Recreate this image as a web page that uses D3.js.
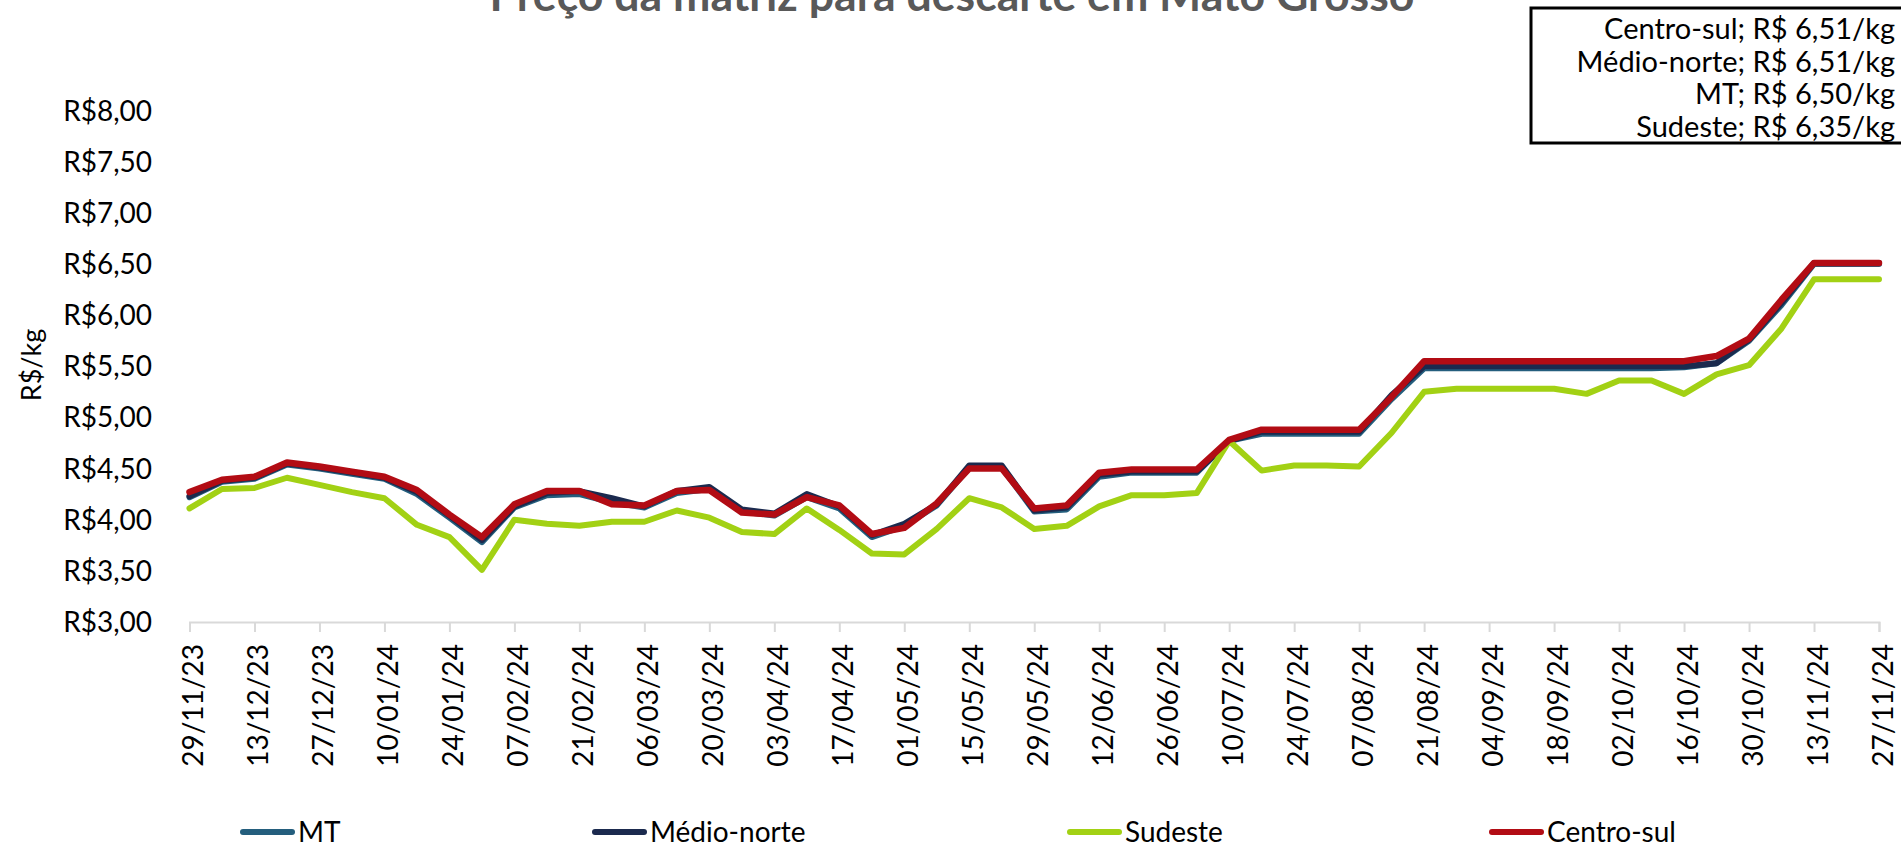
<!doctype html>
<html>
<head>
<meta charset="utf-8">
<title>Preço da matriz para descarte em Mato Grosso</title>
<script src="https://cdn.jsdelivr.net/npm/d3@7"></script>
<style>
  body { margin: 0; background: #fff; }
  svg { display: block; font-family: Lato, 'Open Sans', sans-serif; }
  .tick-y, .tick-x, .leg, .box-txt, .ytitle { fill: #000; }
</style>
</head>
<body>
<script>

var dates = ["29/11/23","06/12/23","13/12/23","20/12/23","27/12/23","03/01/24","10/01/24","17/01/24",
  "24/01/24","31/01/24","07/02/24","14/02/24","21/02/24","28/02/24","06/03/24","13/03/24","20/03/24",
  "27/03/24","03/04/24","10/04/24","17/04/24","24/04/24","01/05/24","08/05/24","15/05/24","22/05/24",
  "29/05/24","05/06/24","12/06/24","19/06/24","26/06/24","03/07/24","10/07/24","17/07/24","24/07/24",
  "31/07/24","07/08/24","14/08/24","21/08/24","28/08/24","04/09/24","11/09/24","18/09/24","25/09/24",
  "02/10/24","09/10/24","16/10/24","23/10/24","30/10/24","06/11/24","13/11/24","20/11/24","27/11/24"]

var mt = [4.22,4.37,4.40,4.54,4.50,4.45,4.40,4.25,4.02,3.78,4.12,4.24,4.25,4.17,4.12,4.26,4.30,4.08,
  4.04,4.22,4.11,3.83,3.94,4.14,4.51,4.51,4.08,4.10,4.42,4.46,4.46,4.46,4.77,4.84,4.84,4.84,4.84,5.18,
  5.48,5.48,5.48,5.48,5.48,5.48,5.48,5.48,5.49,5.53,5.75,6.10,6.50,6.50,6.50]

var medioNorte = [4.23,4.38,4.41,4.55,4.51,4.46,4.41,4.27,4.04,3.80,4.13,4.26,4.28,4.21,4.13,4.28,4.32,
  4.10,4.06,4.25,4.13,3.85,3.96,4.15,4.53,4.53,4.09,4.12,4.44,4.47,4.47,4.47,4.77,4.86,4.86,4.86,4.86,
  5.22,5.50,5.50,5.50,5.50,5.50,5.50,5.50,5.50,5.50,5.53,5.76,6.12,6.51,6.51,6.51]

var sudeste = [4.11,4.30,4.31,4.41,4.34,4.27,4.21,3.95,3.83,3.51,4.00,3.96,3.94,3.98,3.98,4.09,4.02,
  3.88,3.86,4.11,3.90,3.67,3.66,3.91,4.21,4.12,3.91,3.94,4.13,4.24,4.24,4.26,4.77,4.48,4.53,4.53,4.52,
  4.85,5.25,5.28,5.28,5.28,5.28,5.23,5.36,5.36,5.23,5.42,5.51,5.87,6.35,6.35,6.35]

var centroSul = [4.27,4.39,4.42,4.56,4.52,4.47,4.42,4.29,4.05,3.83,4.15,4.28,4.28,4.15,4.14,4.28,4.29,
  4.07,4.05,4.22,4.14,3.86,3.92,4.16,4.50,4.50,4.11,4.14,4.46,4.49,4.49,4.49,4.78,4.88,4.88,4.88,4.88,
  5.20,5.55,5.55,5.55,5.55,5.55,5.55,5.55,5.55,5.55,5.60,5.77,6.15,6.51,6.51,6.51]

var yTicks = [3,3.5,4,4.5,5,5.5,6,6.5,7,7.5,8]

var series = [
  {name:"MT", values:mt, color:"#245e7d", w:6},
  {name:"Médio-norte", values:medioNorte, color:"#1b2a4e", w:6},
  {name:"Sudeste", values:sudeste, color:"#a2d114", w:6},
  {name:"Centro-sul", values:centroSul, color:"#b20c14", w:6.5}
]

var boxLines = ["Centro-sul; R$ 6,51/kg","Médio-norte; R$ 6,51/kg","MT; R$ 6,50/kg","Sudeste; R$ 6,35/kg"]

var width = 1901, height = 846
var parse = d3.timeParse("%d/%m/%y")
var fmt = d3.timeFormat("%d/%m/%y")
var days = dates.map(parse)

var svg = d3.select("body").append("svg")
  .attr("width", width).attr("height", height)

var x = d3.scaleTime().domain(d3.extent(days)).range([189.5, 1879])
var y = d3.scaleLinear().domain([3, 8]).range([622, 110.5])

// title, cut at the top like the original
var title = svg.append("text")
  .attr("x", 952).attr("y", 11)
  .attr("text-anchor", "middle")
  .style("font-weight", "bold")
  .style("font-size", "40px")
  .attr("fill", "#595959")
  .text("Preço da matriz para descarte em Mato Grosso")
var tl = title.node().getComputedTextLength()
title.style("font-size", (40 * 925 / tl) + "px")

// y labels
svg.selectAll(".tick-y")
  .data(yTicks)
  .enter().append("text")
    .attr("class", "tick-y")
    .attr("x", 152)
    .attr("y", function(d) { return y(d); })
    .attr("dy", "0.36em")
    .attr("text-anchor", "end")
    .style("font-size", "28px")
    .text(function(d) { return "R$" + d3.format(".2f")(d).replace(".", ","); })

svg.append("text")
  .attr("class", "ytitle")
  .attr("transform", "translate(31,365) rotate(-90)")
  .attr("text-anchor", "middle")
  .attr("dy", "0.36em")
  .style("font-size", "27px")
  .text("R$/kg")

// x axis
var xTickVals = days.filter(function(d, i) { return i % 2 == 0; })
var xAxis = d3.axisBottom(x)
  .tickValues(xTickVals)
  .tickSize(10)
  .tickFormat(fmt)

var gx = svg.append("g")
  .attr("transform", "translate(0,622)")
  .call(xAxis)
gx.select(".domain").attr("stroke", "#d9d9d9").attr("stroke-width", 2)
gx.selectAll(".tick line").attr("stroke", "#d9d9d9").attr("stroke-width", 2)
gx.selectAll(".tick text")
  .attr("class", "tick-x")
  .attr("fill", "#000")
  .style("font-size", "28px")
  .style("font-family", "Lato, sans-serif")
  .attr("text-anchor", "end")
  .attr("x", -22)
  .attr("y", 0)
  .attr("dy", "0.36em")
  .attr("dx", 0)
  .attr("transform", "translate(3,0) rotate(-90)")

// lines
var line = d3.line()
  .x(function(d, i) { return x(days[i]); })
  .y(function(d) { return y(d); })

svg.selectAll(".serie")
  .data(series)
  .enter().append("path")
    .attr("class", "serie")
    .attr("d", function(s) { return line(s.values); })
    .attr("fill", "none")
    .attr("stroke", function(s) { return s.color; })
    .attr("stroke-width", function(s) { return s.w; })
    .attr("stroke-linejoin", "round")
    .attr("stroke-linecap", "round")

// legend
var legX = [240, 592, 1067, 1489]
var leg = svg.selectAll(".legitem")
  .data(series)
  .enter().append("g")
    .attr("class", "legitem")
    .attr("transform", function(s, i) { return "translate(" + legX[i] + ",832)"; })
leg.append("line")
  .attr("x1", 3).attr("x2", 52)
  .attr("stroke", function(s) { return s.color; })
  .attr("stroke-width", 6)
  .attr("stroke-linecap", "round")
leg.append("text")
  .attr("class", "leg")
  .attr("x", 58).attr("y", 10)
  .style("font-size", "28px")
  .text(function(s) { return s.name; })

// value box
svg.append("rect")
  .attr("x", 1531).attr("y", 8)
  .attr("width", 400).attr("height", 135)
  .attr("fill", "#fff")
  .attr("stroke", "#000")
  .attr("stroke-width", 3)

svg.selectAll(".box-txt")
  .data(boxLines)
  .enter().append("text")
    .attr("class", "box-txt")
    .attr("x", 1895)
    .attr("y", function(d, i) { return 29 + i * 32.5; })
    .attr("dy", "0.36em")
    .attr("text-anchor", "end")
    .style("font-size", "29px")
    .text(function(d) { return d; })

</script>
</body>
</html>
